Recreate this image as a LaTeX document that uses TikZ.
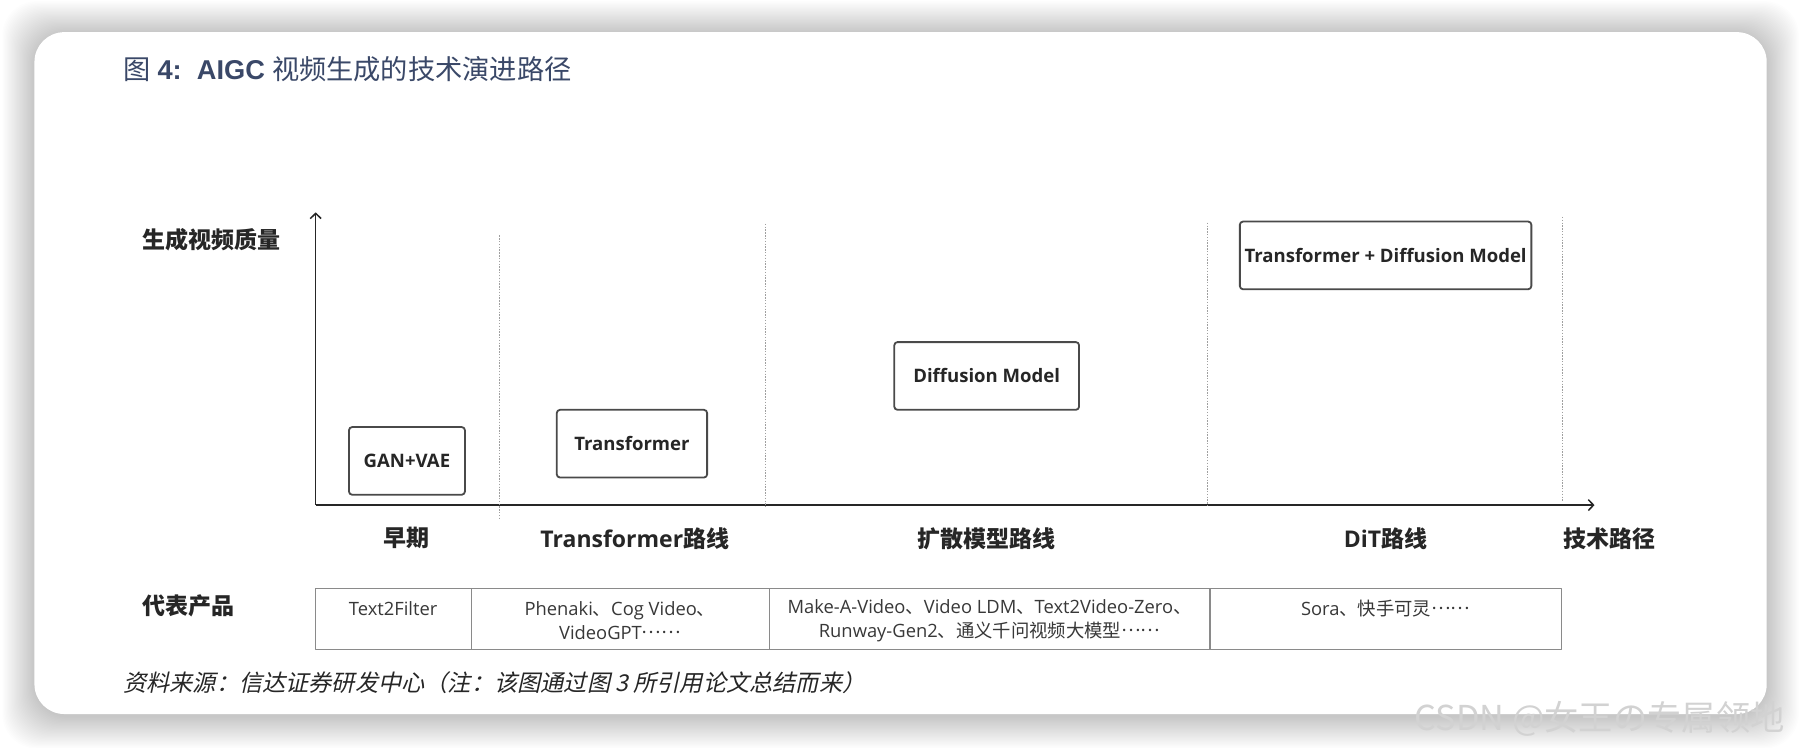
\documentclass[tikz,border=0pt]{standalone}
\usepackage{fontspec}
\setmainfont{Open Sans}
\newfontfamily\cjk{Noto Sans CJK SC}
\newfontfamily\arialb{Liberation Sans}
\newfontfamily\srcfont[FakeSlant=0.22]{Noto Sans CJK SC}
\usetikzlibrary{arrows.meta}
\definecolor{titleblue}{HTML}{3A4868}
\definecolor{inkgray}{HTML}{262626}
\definecolor{boxgray}{HTML}{4A4A4A}
\definecolor{tabgray}{HTML}{8A8A8A}
\newcommand{\middots}{\raisebox{0.3em}{\cjk ……}}
\tikzset{
	model/.style={draw=boxgray, line width=0.9pt, rounded corners=1.6pt, minimum height=1.18cm, inner sep=0pt, text=inkgray, font=\fontsize{9.2}{11}\selectfont\bfseries},
	route/.style={text=inkgray, font=\fontsize{11.4}{13}\selectfont\bfseries, inner sep=0pt},
	prod/.style={text=black!78, font=\fontsize{9.1}{12}\selectfont, align=center, inner sep=0pt},
	sep/.style={gray!75, line width=0.7pt, dash pattern=on 0.7pt off 0.7pt},
}
\begin{document}
\begin{tikzpicture}[x=0.02cm, y=-0.02cm, line join=round, >={Straight Barb[length=0.9mm,width=1.9mm]}]
			\def\xo{275};\def\yo{440};\def\xe{1389};\def\ye{185};
			\def\ttop{512.5};\def\tbot{565.5};
			\useasboundingbox (0,0) rectangle (1568,651);
			\fill[white] (0,0) rectangle (1568,651);
			\foreach \i in {1,...,28}{
				\fill[black, opacity=0.006, rounded corners=0.6cm] ({30-\i},{29-\i}) rectangle ({1539+\i},{624+\i});
			}
			\fill[white, rounded corners=0.52cm] (30,28) rectangle (1539,622);
			\node[anchor=west, inner sep=0pt, text=titleblue, font=\fontsize{13.5}{15}\selectfont] (title) at (107,60) {{\cjk 图} {\arialb\bfseries 4:\ \ AIGC} {\cjk 视频生成的技术演进路径}};
			
			\coordinate (O) at (\xo,\yo);
			\coordinate (Y) at (\xo,\ye);
			\coordinate (X) at (\xe,\yo);
			\draw[->, line width=0.75pt, black!85] (O)--(Y);
			\draw[->, line width=0.75pt, black!85] (O)--(X);
			\node[route] (quality) at (184,209) {\cjk 生成视频质量};
			\foreach \x/\a/\b in {435/205/453, 667/195/441, 1052/194/441, 1361/189/436}{
				\draw[sep] (\x,\a)--(\x,\b);
			}
			\node[model, minimum width=2.02cm] (ganvae) at (354.5,401.5) {GAN+VAE};
			\node[model, minimum width=2.62cm] (transformer) at (550.5,386.5) {Transformer};
			\node[model, minimum width=3.22cm] (diffusion) at (859.5,327.5) {Diffusion Model};
			\node[model, minimum width=5.08cm] (dit) at (1207,222.5) {Transformer + Diffusion Model};
			
			\node[route] (early) at (354,469) {\cjk 早期};
			\node[route] (transroute) at (553,469) {Transformer{\cjk 路线}};
			\node[route] (diffroute) at (859,469) {\cjk 扩散模型路线};
			\node[route] (ditroute) at (1207,469) {DiT{\cjk 路线}};
			\node[route] (techpath) at (1402,469) {\cjk 技术路径};
			
			\node[route] (products) at (164,528) {\cjk 代表产品};
			\draw[tabgray, line width=0.6pt] (\xo,\ttop) rectangle (1360,\tbot);
			\foreach \x in {411,670,1054}{
				\draw[tabgray, line width=0.6pt] (\x,\ttop)--(\x,\tbot);
			}
			\node[prod] (earlyprod) at (342.5,530) {Text2Filter};
			\node[prod] (transprod) at (540,540.5) {Phenaki{\cjk 、}Cog Video{\cjk 、}\\VideoGPT\middots};
			\node[prod] (diffprod) at (862,540.5) {Make-A-Video{\cjk 、}Video LDM{\cjk 、}Text2Video-Zero{\cjk 、}\\Runway-Gen2{\cjk 、通义千问视频大模型}\middots};
			\node[prod] (ditprod) at (1207,530) {Sora{\cjk 、快手可灵}\middots};
			
			\node[anchor=west, inner sep=0pt, text=black!85, font=\srcfont\fontsize{11.5}{13}\selectfont] (source) at (107,595) {资料来源：信达证券研发中心（注：该图通过图 3 所引用论文总结而来）};
			\node[anchor=west, inner sep=0pt, text=gray!35, font=\cjk\fontsize{17}{19}\selectfont] (mark) at (1232,626) {CSDN @女王の专属领地};
		\end{tikzpicture}
\end{document}
